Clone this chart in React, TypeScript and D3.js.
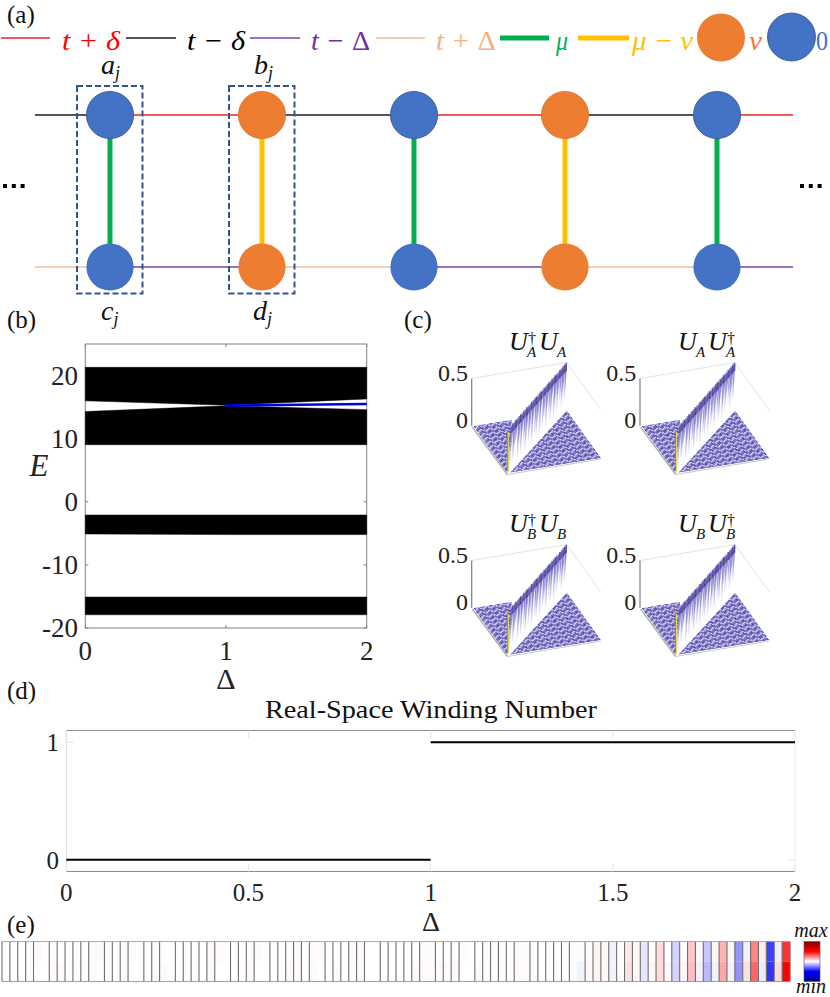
import React from "react";
import * as d3 from "d3";

const SERIF = "'Liberation Serif', 'Times New Roman', serif";

// (a) lattice
const siteLabels = ["blue", "orange", "blue", "orange", "blue"];
const siteXs = [110, 262, 414, 565, 717];
const topLinks = ["#ef5b5b", "#555555", "#ef5b5b", "#555555"];
const bottomLinks = ["#9a72bd", "#f5cdb0", "#9a72bd", "#f5cdb0"];
const rungColors = ["#00b050", "#ffc000", "#00b050", "#ffc000", "#00b050"];
const legendLines = [
  { x1: 1, x2: 50, c: "#ef5b5b", w: 2 },
  { x1: 126, x2: 176, c: "#555555", w: 2 },
  { x1: 250, x2: 300, c: "#9a72bd", w: 2 },
  { x1: 376, x2: 425, c: "#f5cdb0", w: 2 },
  { x1: 500, x2: 549, c: "#00b050", w: 5 },
  { x1: 578, x2: 629, c: "#ffc000", w: 5 },
];
const legendTexts = [
  { t: "t + ", m: "δ", x: 62, w: 58, c: "#ff0000", up: false },
  { t: "t − ", m: "δ", x: 187, w: 58, c: "#000000", up: false },
  { t: "t − ", m: "Δ", x: 311, w: 59, c: "#7030a0", up: true },
  { t: "t + ", m: "Δ", x: 436, w: 60, c: "#f4b183", up: true },
  { t: "", m: "μ", x: 556, w: 12, c: "#00b050", up: false },
  { t: "μ − ", m: "v", x: 632, w: 61, c: "#ffc000", up: false },
  { t: "", m: "v", x: 749, w: 13, c: "#ed7d31", up: false },
  { t: "", m: "0", x: 816, w: 12, c: "#4472c4", up: true },
];

// (b) spectrum
const deltaGrid = [0, 1, 2];
const band1Top = [21.3, 21.3, 21.3];
const band1Bottom = [16.0, 15.3, 16.3];
const band2Top = [14.3, 15.2, 14.6];
const band2Bottom = [9.05, 9.05, 9.05];
const band3Top = [-2.1, -2.1, -2.1];
const band3Bottom = [-5.1, -5.2, -5.2];
const band4Top = [-15.1, -15.1, -15.1];
const band4Bottom = [-17.9, -17.9, -17.9];
const edgeDelta = [1, 2];
const edgeEnergy = [15.25, 15.5];
const bTicksY = [-20, -10, 0, 10, 20];
const bTicksX = [0, 1, 2];

// (c) entanglement-spectrum surfaces
const curtainDrops = [1.0, 0.6, 0.9, 0.7, 0.5, 1.0, 0.65, 0.95, 0.5, 0.8, 1.0, 0.55, 0.9, 0.65, 1.0, 0.5, 0.85, 0.95, 0.6, 1.0, 0.5, 0.9, 0.7, 1.0, 0.55, 0.8, 0.95, 0.5, 1.0, 0.65, 0.9, 0.55, 0.75, 0.95, 0.65, 0.85];
const ridgeTones = [0.5, 0.9, 0.6, 1, 0.55, 0.7, 1, 0.5, 0.85, 0.6, 1, 0.65, 0.5, 0.95, 0.6, 0.8, 1, 0.55, 0.7, 1, 0.5, 0.9, 0.6, 0.75, 1, 0.55, 0.85, 0.6, 1, 0.7, 0.5, 0.95, 0.6, 0.8, 1, 0.9];
const stripeShift = [0, 1, 2, 1];
const stripeTones = ["#3f35a0", "#5a51b3", "#cfcbec", "#6c63bb"];
const surfacePanels = [
  { dx: 0, dy: 0 },
  { dx: 168.3, dy: 0 },
  { dx: 0, dy: 182 },
  { dx: 168.3, dy: 182 },
];

// (d) winding number
const windingLeftX = [0, 1];
const windingLeftY = [0, 0];
const windingRightX = [1, 2];
const windingRightY = [1, 1];
const dTicksX = [0, 0.5, 1, 1.5, 2];
const dTicksY = [0, 1];

// (e) heat strip
const stripTop = [
  0, 0, 0, 0.01, 0.02, 0, 0, 0, 0, 0, 0, 0.02, 0.02, 0, 0, 0.02, 0.02, 0, 0, 0.02, 0, 0, 0, 0, 0, 0, 0.02, 0.02, 0.01, 0, 0, 0.02, 0.02, 0,
  0, 0, 0, 0.02, 0, 0.02, 0.02, 0, 0, 0, 0.02, 0.02, 0, 0, 0, 0, 0, 0, 0, -0.01, -0.01, 0, 0, 0.01, 0.01, 0, 0, 0.01, 0, 0, 0, -0.01, -0.01, 0, 0, 0.01,
  0, 0, -0.01, -0.01, 0.02, 0.05, 0.02, -0.05, 0, 0.09, 0.03, -0.1, 0, 0.14, 0, -0.17, 0, 0.22, 0.03, -0.22, 0.03, 0.3, 0.03, -0.42, -0.05, 0.48, 0.08, -0.75, -0.06, 0.8,
];
const stripBottom = [
  0, 0, 0, 0.01, 0, 0, 0.02, 0.02, 0, 0.01, 0, 0.02, 0, 0, 0, 0.02, 0, 0, 0, 0.02, 0.02, 0, 0.01, 0.01, 0, 0, 0.02, 0, 0, 0, 0.01, 0.02, 0, 0,
  0, 0, 0.02, 0.02, 0, 0.02, 0, 0, 0.02, 0, 0.02, 0.01, 0, 0, 0, 0, 0, 0, 0.02, 0.02, 0.02, 0.02, 0.02, 0.02, 0, 0, 0.02, 0.02, 0, 0, 0, 0.02, 0.02, 0, 0, 0,
  0, 0, -0.02, -0.05, 0.03, 0.05, 0.02, -0.05, 0, 0.12, 0.03, -0.1, 0.03, 0.14, 0.03, -0.17, 0.03, 0.25, -0.06, -0.27, -0.05, 0.35, -0.05, -0.42, 0.12, 0.6, -0.08, -0.8, 0.14, 1,
];
const missingStripLines = [5, 12, 17, 21, 28, 33, 40, 47, 54, 59, 66, 73];

const MathT = (p: any) => <text fontFamily={SERIF} fontStyle="italic" {...p} />;
const Lab = ({ x, y, t }: any) => (
  <text x={x} y={y} fontFamily={SERIF} fontSize={25} fill="#111">{t}</text>
);

function SpectrumPanel() {
  const x = d3.scaleLinear().domain([0, 2]).range([85.3, 366.7]);
  const y = d3.scaleLinear().domain([-20, 25]).range([628, 344]);
  const area = (top: number[], bot: number[]) =>
    d3.area<number>().x((d) => x(d)).y0((_, i) => y(bot[i])).y1((_, i) => y(top[i]))(deltaGrid) as string;
  const line = d3.line<number>().x((d) => x(d)).y((_, i) => y(edgeEnergy[i]));
  const axis = "#808080";
  return (
    <g>
      <rect x={x(0)} y={y(25)} width={x(2) - x(0)} height={y(-20) - y(25)} fill="none" stroke={axis} strokeWidth={1} />
      {bTicksX.map((t) => (
        <g key={t}>
          <line x1={x(t)} x2={x(t)} y1={y(-20)} y2={y(-20) - 3} stroke={axis} />
          <line x1={x(t)} x2={x(t)} y1={y(25)} y2={y(25) + 3} stroke={axis} />
          <text x={x(t)} y={660} textAnchor="middle" fontFamily={SERIF} fontSize={27} fill="#222">{t}</text>
        </g>
      ))}
      {bTicksY.map((t) => (
        <g key={t}>
          <line x1={x(0)} x2={x(0) + 3} y1={y(t)} y2={y(t)} stroke={axis} />
          <line x1={x(2)} x2={x(2) - 3} y1={y(t)} y2={y(t)} stroke={axis} />
          <text x={78} y={y(t) + 9} textAnchor="end" fontFamily={SERIF} fontSize={27} fill="#222">{t}</text>
        </g>
      ))}
      {[
        [band1Top, band1Bottom],
        [band2Top, band2Bottom],
        [band3Top, band3Bottom],
        [band4Top, band4Bottom],
      ].map(([a, b], i) => (
        <path key={i} d={area(a, b)} fill="#000" stroke="#000" strokeWidth={0.5} />
      ))}
      <path d={line(edgeDelta) as string} fill="none" stroke="#0000e6" strokeWidth={2.4} />
      <text x={226} y={689} textAnchor="middle" fontFamily={SERIF} fontSize={30} fill="#222">Δ</text>
      <MathT x={39} y={476} textAnchor="middle" fontSize={31} fill="#222">E</MathT>
    </g>
  );
}

function Surface({ panel, idx }: any) {
  // corner anchors of the projected unit square
  const L = [473.3, 426];
  const F = [507.3, 473.5];
  const B = [567, 410.5];
  const N = 48;
  const pt = (u: number, v: number): [number, number] => [
    L[0] + u * (F[0] - L[0]) + v * (B[0] - L[0]),
    L[1] + u * (F[1] - L[1]) + v * (B[1] - L[1]),
  ];
  const R = pt(1, 1);
  const P = pt(0, 0.41);
  const cells = d3.range(N).flatMap((i) =>
    d3.range(N).map((j) => {
      const u0 = i / N, u1 = (i + 1) / N, v0 = j / N, v1 = (j + 1) / N;
      const tone = stripeTones[(i + stripeShift[j % stripeShift.length]) % stripeTones.length];
      return { pts: [pt(u0, v0), pt(u1, v0), pt(u1, v1), pt(u0, v1)], tone, k: `${i}-${j}` };
    })
  );
  const clipId = `tri${idx}`;
  const zS = d3.scaleLinear().domain([0, 0.5]).range([426, 378.5]);
  const tS = d3.scaleLinear().domain([0, curtainDrops.length]).range([510.5, 567]);
  const ridgeY = d3.scaleLinear().domain([0, curtainDrops.length]).range([428, 364]);
  const pLine = (p: number[][]) => p.map((q) => q.join(",")).join(" ");
  return (
    <g transform={`translate(${panel.dx},${panel.dy})`}>
      {/* box lines */}
      <line x1={472} y1={zS(0.5)} x2={566.8} y2={362.5} stroke="#e3e3e3" />
      <line x1={566.8} y1={362.5} x2={600.7} y2={410} stroke="#e3e3e3" />
      <line x1={471.7} y1={zS(0.5)} x2={471.7} y2={zS(0)} stroke="#808080" strokeWidth={1.2} />
      <defs>
        <clipPath id={clipId}>
          <polygon points={pLine([L, P, F])} />
          <polygon points={pLine([[F[0] + 3, F[1] - 1], R, B])} />
        </clipPath>
      </defs>
      <g clipPath={`url(#${clipId})`}>
        {cells.map((c) => (
          <polygon key={c.k} points={pLine(c.pts)} fill={c.tone} />
        ))}
      </g>
      <line x1={L[0] - 1} y1={L[1] + 1} x2={F[0]} y2={F[1] + 1} stroke="#b0b0b0" strokeWidth={1.4} />
      <line x1={F[0]} y1={F[1] + 1} x2={R[0]} y2={R[1] + 1} stroke="#c8c8c8" strokeWidth={1} />
      {/* curtain */}
      {curtainDrops.map((d, i) => {
        const x0 = tS(i), x1 = tS(i + 0.9);
        const y0 = ridgeY(i), y1 = ridgeY(i + 0.9);
        const h = d * 42;
        return (
          <polygon
            key={i}
            points={pLine([[x0, y0], [x1, y1], [x1 - 2, y1 + h], [x0 - 2, y0 + h]])}
            fill="url(#curtainFade)"
          />
        );
      })}
      {ridgeTones.map((v, i) => (
        <line key={i} x1={tS(i) + 0.8} y1={ridgeY(i) - 3} x2={tS(i) + 0.8} y2={ridgeY(i) + 5}
          stroke="#3a2ea8" strokeWidth={1.6} opacity={v * 0.85} />
      ))}
      <line x1={tS(0)} y1={ridgeY(0) + 2} x2={tS(36)} y2={ridgeY(36) + 2} stroke="#8c7a5a" strokeWidth={1.1} opacity={0.75} />
      <line x1={507.8} y1={430} x2={507.8} y2={471} stroke="#8a8a70" strokeWidth={1.6} />
      <line x1={508.3} y1={432} x2={508.3} y2={472} stroke="#efe04a" strokeWidth={1} />
      {/* labels */}
      <text x={468} y={381} textAnchor="end" fontFamily={SERIF} fontSize={24} fill="#222">0.5</text>
      <text x={468} y={428} textAnchor="end" fontFamily={SERIF} fontSize={24} fill="#222">0</text>
    </g>
  );
}

function SurfaceTitle({ x, y, sub, dagFirst }: any) {
  const C = "#111";
  return (
    <g fill={C}>
      <MathT x={x} y={y} fontSize={26}>U</MathT>
      <MathT x={x + 18} y={y + 7} fontSize={15}>{sub}</MathT>
      <MathT x={x + 30} y={y} fontSize={26}>U</MathT>
      <MathT x={x + 48} y={y + 7} fontSize={15}>{sub}</MathT>
      <text x={x + (dagFirst ? 19 : 49)} y={y - 6} fontFamily={SERIF} fontSize={16}>†</text>
    </g>
  );
}

function WindingPanel() {
  const x = d3.scaleLinear().domain([0, 2]).range([66.3, 795]);
  const y = d3.scaleLinear().domain([-0.1, 1.1]).range([871.5, 730.5]);
  const line = d3.line<number>().x((d) => x(d));
  const lPath = line.y((_, i) => y(windingLeftY[i]))(windingLeftX) as string;
  const rPath = line.y((_, i) => y(windingRightY[i]))(windingRightX) as string;
  return (
    <g>
      <line x1={x(0)} x2={x(2)} y1={730.5} y2={730.5} stroke="#8c8c8c" />
      <line x1={x(0)} x2={x(2)} y1={871.5} y2={871.5} stroke="#8c8c8c" />
      <line x1={x(0)} x2={x(0)} y1={730.5} y2={871.5} stroke="#dcdcdc" />
      <line x1={x(2)} x2={x(2)} y1={730.5} y2={871.5} stroke="#eeeeee" />
      {dTicksX.map((t) => (
        <g key={t}>
          <line x1={x(t)} x2={x(t)} y1={871.5} y2={864} stroke="#e4e4e4" />
          <line x1={x(t)} x2={x(t)} y1={730.5} y2={738} stroke="#e4e4e4" />
          <text x={x(t)} y={901} textAnchor="middle" fontFamily={SERIF} fontSize={25} fill="#222">{t}</text>
        </g>
      ))}
      {dTicksY.map((t) => (
        <g key={t}>
          <line x1={x(0)} x2={x(0) + 7} y1={y(t)} y2={y(t)} stroke="#e4e4e4" />
          <line x1={x(2)} x2={x(2) - 7} y1={y(t)} y2={y(t)} stroke="#e4e4e4" />
          <text x={59} y={y(t) + 9} textAnchor="end" fontFamily={SERIF} fontSize={25} fill="#222">{t}</text>
        </g>
      ))}
      <path d={lPath} fill="none" stroke="#000" strokeWidth={2} />
      <path d={rPath} fill="none" stroke="#000" strokeWidth={2} />
      <text x={431} y={718} textAnchor="middle" fontFamily={SERIF} fontSize={26} fill="#111"
        textLength={332} lengthAdjust="spacingAndGlyphs">Real-Space Winding Number</text>
      <text x={431} y={931} textAnchor="middle" fontFamily={SERIF} fontSize={28} fill="#222">Δ</text>
    </g>
  );
}

function StripPanel() {
  const x = d3.scaleLinear().domain([0, stripTop.length]).range([2, 790]);
  const color = d3.scaleLinear<string>().domain([-1, 0, 1]).range(["#0000ff", "#ffffff", "#ff0000"]);
  const y0 = 941.5, y1 = 961.5, y2 = 981.5;
  return (
    <g>
      {stripTop.map((v, i) => (
        <g key={i}>
          <rect x={x(i)} y={y0} width={x(i + 1) - x(i) + 0.3} height={y1 - y0} fill={color(v)} />
          <rect x={x(i)} y={y1} width={x(i + 1) - x(i) + 0.3} height={y2 - y1} fill={color(stripBottom[i])} />
        </g>
      ))}
      {d3.range(0, stripTop.length + 1).filter((i) => !missingStripLines.includes(i)).map((i) => (
        <line key={i} x1={x(i)} x2={x(i)} y1={y0} y2={y2} stroke="#6e6e6e" strokeWidth={1.1} />
      ))}
      <line x1={2} x2={790} y1={y0} y2={y0} stroke="#999" strokeWidth={0.8} />
      <line x1={2} x2={790} y1={y2} y2={y2} stroke="#888" strokeWidth={0.8} />
      <rect x={804} y={941.5} width={16} height={40} fill="url(#cbar)" stroke="#555" strokeWidth={0.6} />
      <MathT x={811} y={937} textAnchor="middle" fontSize={20} fill="#111">max</MathT>
      <MathT x={811} y={993} textAnchor="middle" fontSize={20} fill="#111">min</MathT>
    </g>
  );
}

function LatticePanel() {
  const yT = 115, yB = 267;
  const extL = 35, extR = 793;
  const nodes = siteLabels.map((s, i) => ({ s, x: siteXs[i], c: s === "blue" ? "#4472c4" : "#ed7d31" }));
  return (
    <g>
      {legendLines.map((l, i) => (
        <line key={i} x1={l.x1} x2={l.x2} y1={38} y2={38} stroke={l.c} strokeWidth={l.w} />
      ))}
      {legendTexts.map((l, i) => (
        <text key={i} x={l.x} y={50} fontFamily={SERIF} fontStyle="italic" fontSize={28} fill={l.c}
          textLength={l.w} lengthAdjust="spacingAndGlyphs">
          {l.t}<tspan fontStyle={l.up ? "normal" : "italic"}>{l.m}</tspan>
        </text>
      ))}
      <circle cx={721} cy={37.5} r={24} fill="#ed7d31" />
      <circle cx={791.5} cy={37} r={24} fill="#4472c4" stroke="#2f528f" strokeWidth={0.8} />

      {/* horizontal hoppings */}
      <line x1={extL} x2={siteXs[0]} y1={yT} y2={yT} stroke="#555555" strokeWidth={2} />
      <line x1={extL} x2={siteXs[0]} y1={yB} y2={yB} stroke="#f5cdb0" strokeWidth={2} />
      {topLinks.map((c, i) => (
        <line key={i} x1={siteXs[i]} x2={siteXs[i + 1]} y1={yT} y2={yT} stroke={c} strokeWidth={2} />
      ))}
      {bottomLinks.map((c, i) => (
        <line key={i} x1={siteXs[i]} x2={siteXs[i + 1]} y1={yB} y2={yB} stroke={c} strokeWidth={2} />
      ))}
      <line x1={siteXs[4]} x2={extR} y1={yT} y2={yT} stroke="#ef5b5b" strokeWidth={2} />
      <line x1={siteXs[4]} x2={extR} y1={yB} y2={yB} stroke="#9a72bd" strokeWidth={2} />
      {rungColors.map((c, i) => (
        <line key={i} x1={siteXs[i]} x2={siteXs[i]} y1={yT} y2={yB} stroke={c} strokeWidth={5} />
      ))}
      {nodes.map((n, i) => (
        <g key={i}>
          <circle cx={n.x} cy={yT} r={23.6} fill={n.c} stroke={n.s === "blue" ? "#2f528f" : "#d9712c"} strokeWidth={0.8} />
          <circle cx={n.x} cy={yB} r={23.6} fill={n.c} />
        </g>
      ))}
      {[77, 229].map((bx) => (
        <rect key={bx} x={bx} y={86} width={65.5} height={207.5} fill="none" stroke="#2f5597" strokeWidth={2} strokeDasharray="6 3" />
      ))}
      {/* site names */}
      {[["a", 101, 74], ["b", 254, 74], ["c", 101, 320], ["d", 253, 320]].map(([t, px, py]: any) => (
        <text key={t} x={px} y={py} fontFamily={SERIF} fontStyle="italic" fontSize={28} fill="#111">
          {t}<tspan fontSize={18} dy={5}>j</tspan>
        </text>
      ))}
      {/* ellipsis */}
      {[0, 1, 2].flatMap((k) => [
        <rect key={`l${k}`} x={3 + k * 8.8} y={184} width={4} height={4} fill="#000" />,
        <rect key={`r${k}`} x={800 + k * 8.8} y={184} width={4} height={4} fill="#000" />,
      ])}
    </g>
  );
}

export default function App() {
  return (
    <svg width={830} height={997} viewBox="0 0 830 997"
      style={{ position: "absolute", left: 0, top: 0, background: "#fff" }}>
      <defs>
        <linearGradient id="curtainFade" x1="0" y1="0" x2="0" y2="1">
          <stop offset="0" stopColor="#3d33aa" stopOpacity={0.8} />
          <stop offset="0.5" stopColor="#5a50bc" stopOpacity={0.55} />
          <stop offset="1" stopColor="#8078d0" stopOpacity={0} />
        </linearGradient>
        <linearGradient id="cbar" x1="0" y1="0" x2="0" y2="1">
          <stop offset="0" stopColor="#800000" />
          <stop offset="0.25" stopColor="#ff0000" />
          <stop offset="0.5" stopColor="#ffffff" />
          <stop offset="0.75" stopColor="#0000ff" />
          <stop offset="1" stopColor="#000080" />
        </linearGradient>
      </defs>
      <Lab x={7} y={23} t="(a)" />
      <Lab x={7} y={328} t="(b)" />
      <Lab x={404} y={328} t="(c)" />
      <Lab x={7} y={699} t="(d)" />
      <Lab x={7} y={933} t="(e)" />
      <LatticePanel />
      <SpectrumPanel />
      {surfacePanels.map((p, i) => <Surface key={i} panel={p} idx={i} />)}
      <SurfaceTitle x={509} y={350} sub="A" dagFirst />
      <SurfaceTitle x={678} y={350} sub="A" />
      <SurfaceTitle x={509} y={532} sub="B" dagFirst />
      <SurfaceTitle x={678} y={532} sub="B" />
      <WindingPanel />
      <StripPanel />
    </svg>
  );
}
